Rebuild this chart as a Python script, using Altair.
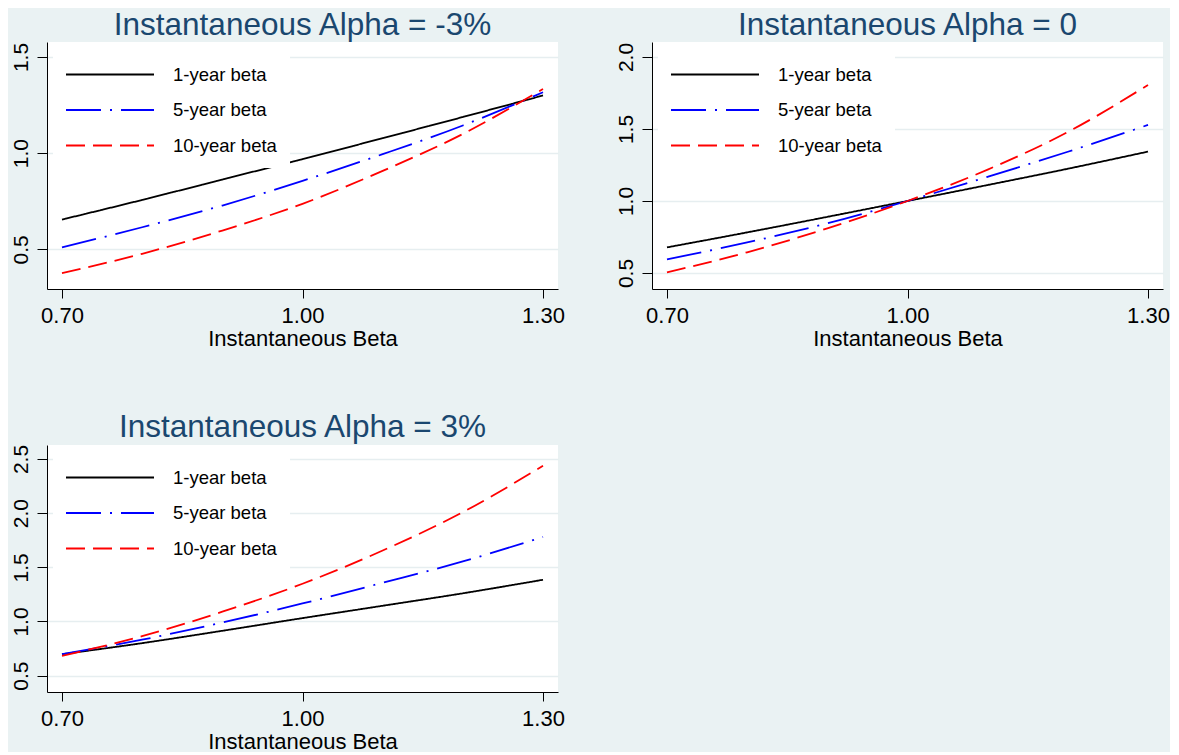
import altair as alt
import pandas as pd

# ---- data ----
beta = [0.70, 0.80, 0.90, 1.00, 1.10, 1.20, 1.30]
series_names = ["1-year beta", "5-year beta", "10-year beta"]

# Instantaneous Alpha = -3%
one_year_a = [0.655, 0.757, 0.863, 0.969, 1.078, 1.188, 1.300]
five_year_a = [0.511, 0.615, 0.728, 0.856, 0.995, 1.144, 1.317]
ten_year_a = [0.376, 0.477, 0.598, 0.737, 0.908, 1.100, 1.334]

# Instantaneous Alpha = 0
one_year_b = [0.678, 0.782, 0.890, 1.000, 1.111, 1.224, 1.343]
five_year_b = [0.595, 0.712, 0.845, 1.000, 1.168, 1.342, 1.528]
ten_year_b = [0.505, 0.644, 0.810, 1.000, 1.218, 1.479, 1.806]

# Instantaneous Alpha = 3%
one_year_c = [0.698, 0.800, 0.914, 1.031, 1.145, 1.260, 1.385]
five_year_c = [0.698, 0.832, 0.990, 1.166, 1.357, 1.554, 1.780]
ten_year_c = [0.683, 0.865, 1.090, 1.348, 1.655, 2.009, 2.437]

titles = ["Instantaneous Alpha = -3%", "Instantaneous Alpha = 0", "Instantaneous Alpha = 3%"]
x_ticks = [0.70, 1.00, 1.30]
y_ticks_a = [0.5, 1.0, 1.5]
y_ticks_b = [0.5, 1.0, 1.5, 2.0]
y_ticks_c = [0.5, 1.0, 1.5, 2.0, 2.5]

FONT = "Liberation Sans"
BG = "#EAF2F3"
NAVY = "#1A476F"


def frame(y1, y5, y10):
    rows = []
    for name, ys in zip(series_names, [y1, y5, y10]):
        for b, v in zip(beta, ys):
            rows.append({"beta": b, "value": v, "series": name})
    return pd.DataFrame(rows)


def panel(title, y1, y5, y10, ydomain, yticks):
    legend = alt.Legend(
        title=None,
        orient="none",
        legendX=6,
        legendY=12,
        padding=12,
        fillColor="white",
        strokeColor="white",
        symbolType="stroke",
        symbolSize=7744,
        symbolStrokeWidth=1.8,
        clipHeight=17,
        rowPadding=16.5,
        labelOffset=18,
        labelFont=FONT,
        labelFontSize=18.5,
        labelColor="black",
        labelLimit=300,
    )
    return (
        alt.Chart(frame(y1, y5, y10))
        .mark_line(strokeWidth=1.8, interpolate="monotone", clip=True)
        .encode(
            x=alt.X(
                "beta:Q",
                scale=alt.Scale(domain=[0.6813, 1.3187], nice=False, zero=False),
                axis=alt.Axis(
                    title="Instantaneous Beta",
                    values=x_ticks,
                    format=".2f",
                    grid=False,
                    labelFont=FONT,
                    labelFontSize=22,
                    labelColor="black",
                    labelPadding=7,
                    labelFlush=False,
                    labelOverlap=False,
                    tickSize=9,
                    tickColor="black",
                    domainColor="black",
                    titleFont=FONT,
                    titleFontSize=22,
                    titleFontWeight="normal",
                    titleColor="black",
                    titlePadding=2,
                ),
            ),
            y=alt.Y(
                "value:Q",
                scale=alt.Scale(domain=ydomain, nice=False, zero=False),
                axis=alt.Axis(
                    title=None,
                    values=yticks,
                    format=".1f",
                    grid=True,
                    gridColor="#E6EEF0",
                    gridWidth=1.6,
                    labelFont=FONT,
                    labelFontSize=21,
                    labelColor="black",
                    labelAngle=270,
                    labelAlign="center",
                    labelBaseline="alphabetic",
                    labelPadding=10,
                    labelOverlap=False,
                    tickSize=10,
                    tickColor="black",
                    domainColor="black",
                ),
            ),
            color=alt.Color(
                "series:N",
                scale=alt.Scale(domain=series_names, range=["black", "blue", "red"]),
                legend=legend,
            ),
            strokeDash=alt.StrokeDash(
                "series:N",
                scale=alt.Scale(domain=series_names, range=[[1, 0], [35, 9, 2, 9], [19, 8]]),
                legend=legend,
            ),
        )
        .properties(
            width=511,
            height=247,
            title=alt.TitleParams(
                text=title,
                font=FONT,
                fontSize=31.5,
                fontWeight="normal",
                color=NAVY,
                anchor="middle",
                offset=1,
            ),
        )
    )


p1 = panel(titles[0], one_year_a, five_year_a, ten_year_a, [0.294, 1.578], y_ticks_a)
p2 = panel(titles[1], one_year_b, five_year_b, ten_year_b, [0.389, 2.104], y_ticks_b)
p3 = panel(titles[2], one_year_c, five_year_c, ten_year_c, [0.349, 2.629], y_ticks_c)

chart = (
    alt.concat(p1, p2, p3, columns=2, spacing={"row": 156, "column": 94}, bounds="flush")
    .resolve_scale(color="independent", strokeDash="independent", x="independent", y="independent")
    .configure(background=BG, padding={"left": 1, "top": 1, "right": 0, "bottom": 0})
    .configure_view(fill="white", strokeWidth=0)
)

chart.save("out.html", embed_options={"renderer": "svg", "actions": False})
